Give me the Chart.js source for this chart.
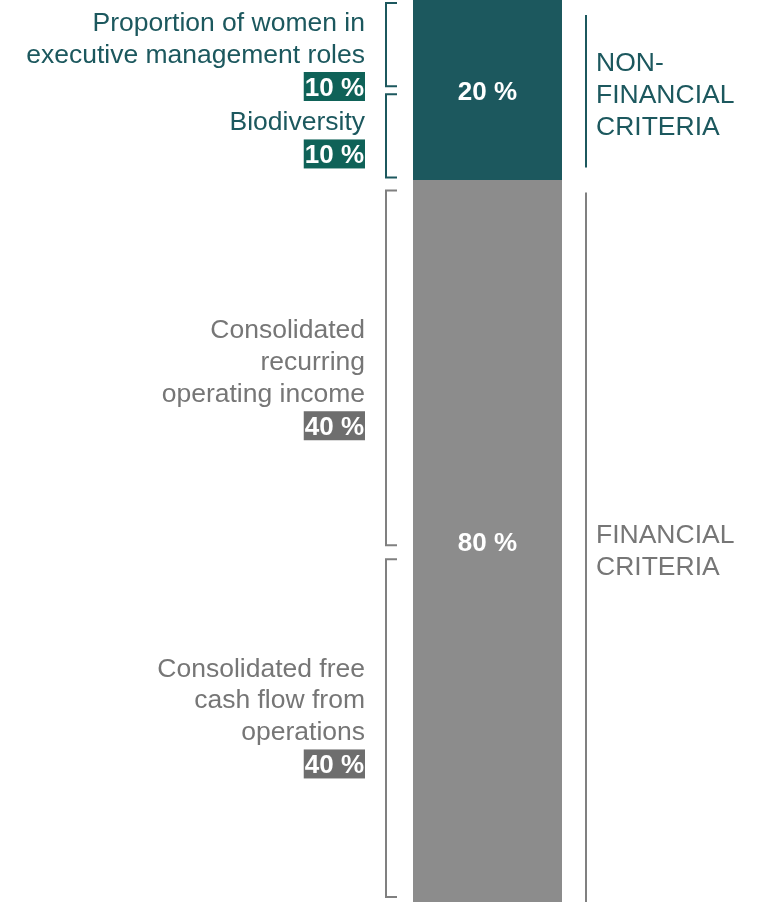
<!DOCTYPE html>
<html>
<head>
<meta charset="utf-8">
<script src="https://cdn.jsdelivr.net/npm/chart.js@4"></script>
<style>
  html, body { margin: 0; padding: 0; background: #fff; }
  #wrap { width: 758px; height: 902px; }
</style>
</head>
<body>
<div id="wrap"><canvas id="myChart"></canvas></div>
<script>
// data
const categories = ['Criteria'];
const groupNames = [['FINANCIAL', 'CRITERIA'], ['NON-', 'FINANCIAL', 'CRITERIA']];
const groupValues = [80, 20];
const criteriaLabels = [
    ['Proportion of women in', 'executive management roles'],
    ['Biodiversity'],
    ['Consolidated', 'recurring', 'operating income'],
    ['Consolidated free', 'cash flow from', 'operations']
];
const criteriaWeights = [10, 10, 40, 40];
const criteriaGroup = [1, 1, 0, 0];

const teal = '#1c585e';
const tealBadge = '#0f6258';
const grey = '#8c8c8c';
const greyText = '#767676';
const greyLine = '#808080';
const greyBadge = '#6e6e6e';
const FONT = 'Arial, "Liberation Sans", sans-serif';
const CAP = 19;      // cap height of the 26.5px text
const LINE = 31.7;

// pixel tweaks for where each bracket / label block sits
const bracketInset = [[3, 4], [4, 3], [10, -4], [18, 5]];
const labelShift = [11.3, 4.4, 19, -3.6];
const sideShift = [8.5, 2.8];
const sideSpan = [[12, 0], [15, 13]];

function drawBadge(c, text, right, yc, bg) {
    c.font = 'bold 26px ' + FONT;
    let w = c.measureText(text).width + 2;
    c.fillStyle = bg;
    c.fillRect(right - w, yc - 14.5, w, 29);
    c.fillStyle = '#fff';
    c.textAlign = 'right';
    c.fillText(text, right - 1, yc + 9);
}

const bracketPlugin = {
    id: 'brackets',
    afterDraw(chart) {
        const c = chart.ctx;
        const ys = chart.scales.y;
        c.save();
        c.textBaseline = 'alphabetic';

        // bar value labels + right side groups
        let cum = 0;
        groupValues.forEach((v, i) => {
            let top = ys.getPixelForValue(cum + v), bot = ys.getPixelForValue(cum);
            c.font = 'bold 26px ' + FONT;
            c.fillStyle = '#fff';
            c.textAlign = 'center';
            c.fillText(v + ' %', (chart.chartArea.left + chart.chartArea.right) / 2, (top + bot) / 2 + 9.5);

            c.strokeStyle = i == 1 ? teal : greyLine;
            c.lineWidth = 2;
            c.beginPath();
            c.moveTo(586, top + sideSpan[i][0]);
            c.lineTo(586, bot - sideSpan[i][1]);
            c.stroke();

            c.font = '26.5px ' + FONT;
            c.fillStyle = i == 1 ? teal : greyText;
            c.textAlign = 'left';
            let lines = groupNames[i];
            let mid = (top + bot) / 2 + sideShift[i];
            let h = CAP + (lines.length - 1) * 32;
            let b0 = mid - h / 2 + CAP;
            lines.forEach((t, k) => c.fillText(t, 596, b0 + k * 32));
            cum += v;
        });

        // left brackets, from the top down
        let from = 100;
        criteriaLabels.forEach((lines, i) => {
            let to = from - criteriaWeights[i];
            let top = ys.getPixelForValue(from) + bracketInset[i][0];
            let bot = ys.getPixelForValue(to) - bracketInset[i][1];
            let isTeal = criteriaGroup[i] == 1;
            c.strokeStyle = isTeal ? teal : greyLine;
            c.lineWidth = 2;
            c.beginPath();
            c.moveTo(397, top);
            c.lineTo(386, top);
            c.lineTo(386, bot);
            c.lineTo(397, bot);
            c.stroke();

            let mid = (ys.getPixelForValue(from) + ys.getPixelForValue(to)) / 2 + labelShift[i];
            let h = CAP + (lines.length - 1) * LINE + 24 + 14.5;
            let b0 = mid - h / 2 + CAP;
            c.font = '26.5px ' + FONT;
            c.fillStyle = isTeal ? teal : greyText;
            c.textAlign = 'right';
            lines.forEach((t, k) => c.fillText(t, 365, b0 + k * LINE));
            drawBadge(c, criteriaWeights[i] + ' %', 365, b0 + (lines.length - 1) * LINE + 24, isTeal ? tealBadge : greyBadge);
            from = to;
        });
        c.restore();
    }
};

var ctx = document.getElementById('myChart');
var myChart = new Chart(ctx, {
    type: 'bar',
    data: {
        labels: categories,
        datasets: [{
            label: 'Financial criteria',
            data: [groupValues[0]],
            backgroundColor: grey,
            borderWidth: 0
        }, {
            label: 'Non-financial criteria',
            data: [groupValues[1]],
            backgroundColor: teal,
            borderWidth: 0
        }]
    },
    options: {
        responsive: true,
        maintainAspectRatio: false,
        animation: false,
        barPercentage: 1,
        categoryPercentage: 1,
        layout: { padding: { left: 413, right: 196, top: 0, bottom: 0 } },
        scales: {
            x: { stacked: true, display: false },
            y: { stacked: true, display: false, min: 0, max: 100 }
        },
        plugins: {
            legend: { display: false },
            tooltip: { enabled: false }
        }
    },
    plugins: [bracketPlugin]
});
</script>
</body>
</html>
